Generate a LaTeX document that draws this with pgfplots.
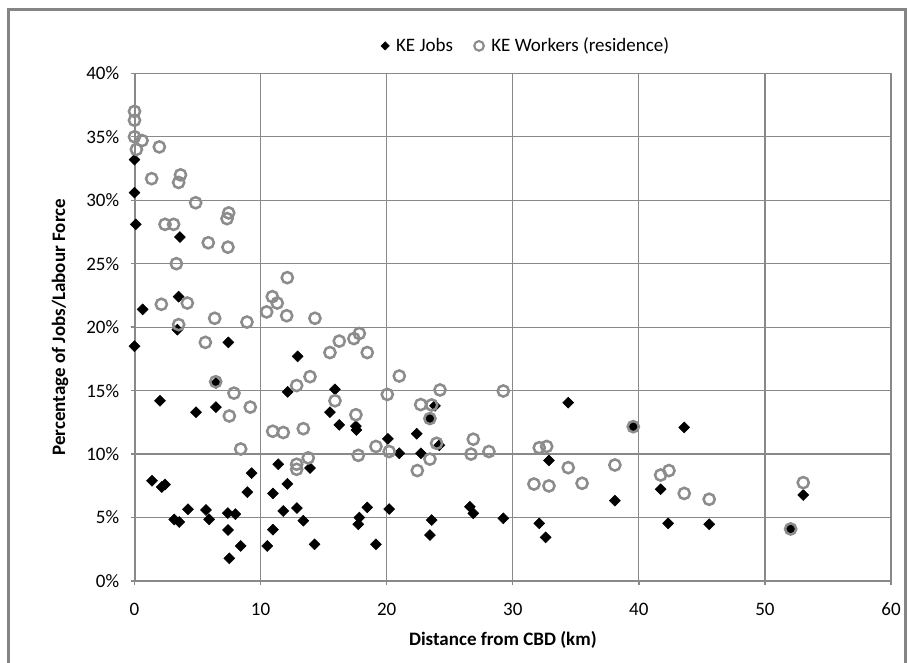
\documentclass[border=0pt]{standalone}
\usepackage{fontspec}
\setmainfont{Carlito}
\usepackage{pgfplots}
\pgfplotsset{compat=1.18}
\definecolor{gridgray}{HTML}{898989}
\definecolor{circgray}{HTML}{8C8C8C}
\definecolor{framegray}{HTML}{858585}
\newcommand{\chartfont}{\fontsize{14.25pt}{17pt}\selectfont}
\begin{document}
\begin{tikzpicture}[x=1pt,y=1pt]
\useasboundingbox (0,0) rectangle (683.25,496.5);
\clip (0,0) rectangle (683.25,496.5);
\draw[framegray, line width=2.25pt] (6,489) rectangle (678.75,-10);
\begin{axis}[
  at={(100.875pt,60.75pt)}, anchor=south west,
  scale only axis, width=567.375pt, height=380.775pt,
  xmin=0, xmax=60, ymin=0, ymax=40,
  xtick={0,10,...,60}, ytick={0,5,...,40},
  clip=false,
  grid=major, major grid style={gridgray, line width=0.9pt},
  axis x line=bottom, axis y line=left,
  axis line style={gridgray, line width=1.5pt, -},
  every outer x axis line/.append style={-},
  every outer y axis line/.append style={-},
  tick align=outside, major tick length=3pt,
  tick style={gridgray, line width=1pt},
  /pgf/number format/assume math mode=true,
  tick label style={font=\chartfont, black},
  yticklabel={\pgfmathprintnumber[fixed,precision=0]{\tick}\%},
  xticklabel style={yshift=-10pt},
  yticklabel style={xshift=-5pt},
  xlabel={Distance from CBD (km)},
  ylabel={Percentage of Jobs/Labour Force},
  label style={font=\chartfont\bfseries},
  xlabel style={at={(axis description cs:0.487,-0.1162)}, anchor=center},
  ylabel style={at={(axis description cs:-0.0985,0.5)}, anchor=center, rotate=0},
  legend columns=2,
  legend style={at={(axis description cs:0.518,1.054)}, anchor=center,
    draw=none, fill=none, font=\chartfont,
    /tikz/every even column/.append style={column sep=14pt}},
  legend cell align=left,
]
\addplot[only marks, mark=square*, mark size=2.9pt,
  mark options={rotate=45, fill=black, draw=black, line width=0.4pt},
  legend image code/.code={\draw[mark size=2.2pt, mark options={rotate=45, fill=black, draw=black}] plot[mark=square*] coordinates {(0.3cm,0cm)}; \path (0.3cm,0) ++(6pt,0);}]
coordinates {
(0,33.2) (0,30.6) (0.1,28.1) (3.6,27.1) (3.5,22.4) (0.65,21.4) (3.4,19.8) (0,18.5)
(7.44,18.8) (12.94,17.7) (6.46,15.6) (12.15,14.9) (15.9,15.1) (2.02,14.2) (4.88,13.3)
(6.46,13.7) (15.5,13.3) (16.24,12.3) (17.56,12.2) (17.6,11.9) (20.1,11.2) (21.0,10.06)
(1.39,7.9) (2.16,7.4) (2.42,7.6) (9.29,8.5) (8.95,7.0) (11.4,9.2) (12.12,7.65)
(10.98,6.9) (13.92,8.9) (4.24,5.65) (3.15,4.85) (3.55,4.65) (5.67,5.6) (5.92,4.86)
(7.4,5.35) (8.0,5.27) (7.42,4.02) (8.42,2.76) (7.52,1.79) (11.8,5.52) (12.88,5.75)
(13.39,4.75) (10.98,4.05) (10.53,2.76) (14.28,2.89) (18.46,5.8) (17.83,5.0) (17.75,4.47)
(20.2,5.67) (19.15,2.89) (23.83,13.8) (23.43,12.8) (34.4,14.05) (39.56,12.16)
(22.38,11.6) (22.72,10.06) (24.17,10.7) (32.87,9.5) (26.6,5.85) (26.87,5.33)
(29.25,4.94) (23.57,4.8) (23.43,3.62) (32.1,4.54) (32.61,3.44) (38.1,6.33)
(43.6,12.1) (41.73,7.23) (42.33,4.54) (45.58,4.47) (53.04,6.78) (52.04,4.1)
};
\addlegendentry{KE Jobs}
\addplot[only marks, mark=o, mark size=4.2pt,
  mark options={draw=circgray, line width=1.9pt},
  legend image code/.code={\draw[mark size=3.6pt, mark options={draw=circgray, line width=1.6pt}] plot[mark=o] coordinates {(0.3cm,0cm)}; \path (0.3cm,0) ++(7pt,0);}]
coordinates {
(0,37.0) (0,36.3) (0,35.0) (0.6,34.7) (0.15,34.0) (1.97,34.2) (1.36,31.7) (3.65,32.0)
(3.5,31.4) (4.85,29.8) (2.42,28.1) (3.1,28.1) (7.47,29.0) (7.34,28.55) (5.85,26.65)
(7.41,26.3) (3.32,25.0) (2.13,21.8) (4.19,21.9) (3.5,20.2) (6.36,20.7) (8.92,20.4)
(12.12,23.9) (10.93,22.4) (11.32,21.9) (10.48,21.2) (12.07,20.9) (14.31,20.7)
(5.62,18.8) (6.44,15.7) (7.89,14.8) (7.52,13.0) (9.18,13.7) (8.42,10.4) (15.5,18.0)
(16.24,18.9) (17.4,19.1) (17.83,19.5) (18.46,18.0) (13.92,16.1) (12.86,15.4)
(15.9,14.2) (17.56,13.1) (20.05,14.7) (10.96,11.8) (11.8,11.7) (13.39,12.0)
(17.75,9.9) (19.15,10.6) (20.2,10.2) (12.86,9.2) (12.86,8.8) (13.78,9.7) (21.0,16.15)
(24.23,15.05) (29.25,14.97) (22.7,13.9) (23.57,13.87) (23.43,12.8) (23.96,10.85)
(23.43,9.6) (22.43,8.7) (26.87,11.17) (26.69,10.0) (28.11,10.2) (32.1,10.5)
(32.69,10.6) (34.4,8.93) (38.1,9.14) (31.68,7.64) (32.87,7.49) (35.5,7.7)
(39.56,12.16) (41.73,8.35) (42.39,8.7) (43.6,6.9) (45.58,6.44) (53.04,7.75) (52.04,4.1)
};
\addlegendentry{KE Workers (residence)}
\end{axis}
\end{tikzpicture}
\end{document}
